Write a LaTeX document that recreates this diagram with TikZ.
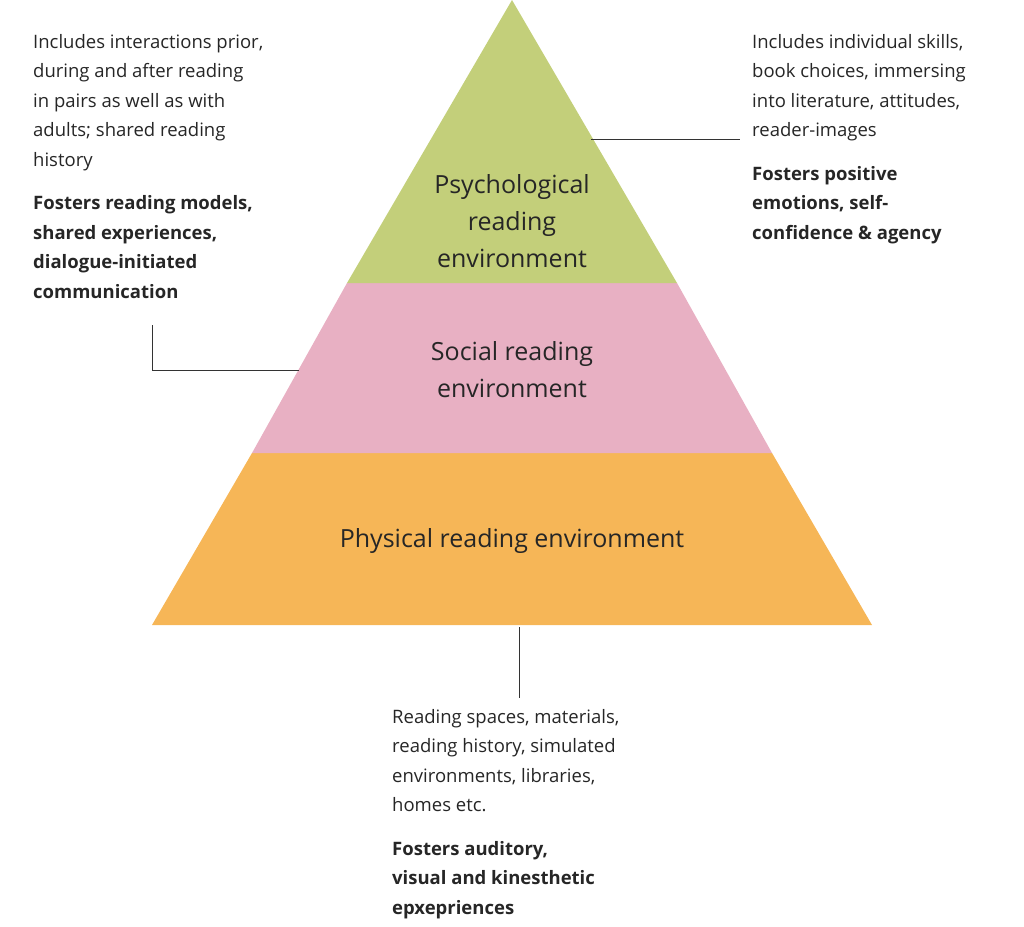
\documentclass[tikz,border=0pt]{standalone}
\usepackage{fontspec}
\setmainfont{Open Sans}
\definecolor{cgreen}{HTML}{C3CF7A}
\definecolor{cpink}{HTML}{E8B0C3}
\definecolor{corange}{HTML}{F6B657}
\begin{document}
\begin{tikzpicture}[x=1pt,y=-1pt,
  txt/.style={anchor=north west,align=left,inner sep=0pt,font=\fontsize{18.5}{29.5}\selectfont,text=black!85},
  lbl/.style={align=center,font=\fontsize{25}{37}\selectfont,text=black!85},
  con/.style={draw=black!80,line width=0.8pt}]
\useasboundingbox (0,0) rectangle (1024,926);
\fill[corange] (152,625) -- (872,625) -- (772,453) -- (252,453) -- cycle;
\fill[cpink] (252,453) -- (772,453) -- (677,283) -- (347,283) -- cycle;
\fill[cgreen] (347,283) -- (677,283) -- (512,0) -- cycle;
\node[lbl] (psy) at (512,221) {Psychological\\reading\\environment};
\node[lbl] (soc) at (512,370) {Social reading\\environment};
\node[lbl] (phy) at (512,541) {Physical reading environment};
\node[txt] (lt) at (33,34) {Includes interactions prior,\\during and after reading\\in pairs as well as with\\adults; shared reading\\history\\[14pt]\textbf{Fosters reading models,}\\\textbf{shared experiences,}\\\textbf{dialogue-initiated}\\\textbf{communication}};
\node[txt] (rt) at (752,34) {Includes individual skills,\\book choices, immersing\\into literature, attitudes,\\reader-images\\[14pt]\textbf{Fosters positive}\\\textbf{emotions, self-}\\\textbf{confidence \& agency}};
\node[txt] (bt) at (392,709) {Reading spaces, materials,\\reading history, simulated\\environments, libraries,\\homes etc.\\[14pt]\textbf{Fosters auditory,}\\\textbf{visual and kinesthetic}\\\textbf{epxepriences}};
\coordinate (r1) at (591,139); \coordinate (r2) at (740,139);
\coordinate (l1) at (152,325); \coordinate (l2) at (152,370); \coordinate (l3) at (299,370);
\coordinate (b1) at (519,627); \coordinate (b2) at (519,698);
\draw[con] (r1) -- (r2);
\draw[con] (l1) -- (l2) -- (l3);
\draw[con] (b1) -- (b2);
\end{tikzpicture}
\end{document}
